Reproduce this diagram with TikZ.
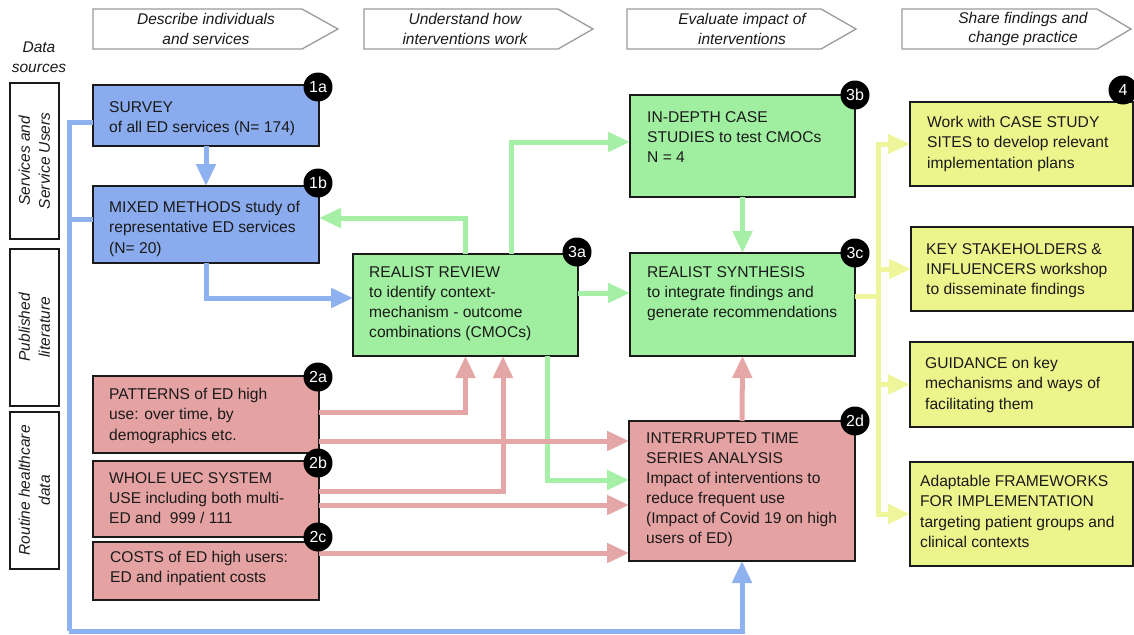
\documentclass[tikz,border=0pt]{standalone}
\usepackage{fontspec}
\setmainfont{Liberation Sans}
\usetikzlibrary{arrows.meta}
\definecolor{bfill}{HTML}{8AABEE}
\definecolor{bline}{HTML}{8EB1F0}
\definecolor{gfill}{HTML}{A0EFA0}
\definecolor{gline}{HTML}{A6EFA6}
\definecolor{pfill}{HTML}{E5A2A2}
\definecolor{pline}{HTML}{E4A6A6}
\definecolor{yfill}{HTML}{ECF58C}
\definecolor{yline}{HTML}{EEF59A}
\definecolor{hdrgray}{HTML}{9A9A9A}
\definecolor{ink}{HTML}{1A1A1A}
\begin{document}
\begin{tikzpicture}[x=1pt,y=-1pt,
  boxs/.style={draw=ink, line width=1.6pt, anchor=north west, inner sep=0pt, outer sep=0pt},
  txt/.style={anchor=north west, align=left, inner sep=0pt, text=ink, font=\fontsize{15.6}{20.3}\selectfont},
  hdrtxt/.style={align=center, inner sep=0pt, text=ink, font=\fontsize{15.5}{19.5}\selectfont\itshape},
  hdr/.style={draw=hdrgray, line width=1.3pt, fill=white},
  side/.style={draw=ink, line width=1.6pt, anchor=north west, inner sep=0pt, minimum width=49pt},
  sidetxt/.style={rotate=90, align=center, inner sep=0pt, text=ink, font=\fontsize{15.5}{20}\selectfont\itshape},
  badge/.style={circle, fill=black, text=white, minimum size=29pt, inner sep=0pt, font=\fontsize{16}{16}\selectfont},
  conn/.style={line width=5pt},
  tip/.style={-{Triangle[length=22pt,width=19pt]}}
]
\useasboundingbox (0,0) rectangle (1134,634);

% headers
\draw[hdr] (93,9) -- (302,9) -- (338,29) -- (302,49) -- (93,49) -- cycle;
\node[hdrtxt] (h1) at (206,29) {Describe individuals\\and services};
\draw[hdr] (364,9) -- (558,9) -- (593,29) -- (558,49) -- (364,49) -- cycle;
\node[hdrtxt] (h2) at (465,29) {Understand how\\interventions work};
\draw[hdr] (627,9) -- (821,9) -- (856,29) -- (821,49) -- (627,49) -- cycle;
\node[hdrtxt] (h3) at (742,29) {Evaluate impact of\\interventions};
\draw[hdr] (902,9) -- (1097,9) -- (1131,29) -- (1097,49) -- (902,49) -- cycle;
\node[hdrtxt] (h4) at (1023,29) {Share findings and\\change practice};

% data sources
\node[hdrtxt] (ds) at (39,57) {Data\\sources};
\node[side, minimum height=156pt] (sd1) at (9,82) {};
\node[sidetxt] (sdt1) at (sd1.center) {Services and\\Service Users};
\node[side, minimum height=157pt] (sd2) at (9,248) {};
\node[sidetxt] (sdt2) at (sd2.center) {Published\\literature};
\node[side, minimum height=157pt] (sd3) at (9,411) {};
\node[sidetxt] (sdt3) at (sd3.center) {Routine healthcare\\data};

% boxes
\node[boxs, fill=bfill, minimum width=226pt, minimum height=61pt] (s1a) at (93,85) {};
\node[boxs, fill=bfill, minimum width=226pt, minimum height=77pt] (s1b) at (93,186) {};
\node[boxs, fill=pfill, minimum width=226pt, minimum height=77pt] (s2a) at (93,376) {};
\node[boxs, fill=pfill, minimum width=226pt, minimum height=76pt] (s2b) at (93,461) {};
\node[boxs, fill=pfill, minimum width=226pt, minimum height=58pt] (s2c) at (93,542) {};
\node[boxs, fill=gfill, minimum width=225pt, minimum height=102pt] (s3a) at (353,254) {};
\node[boxs, fill=gfill, minimum width=225pt, minimum height=102pt] (s3b) at (630,95) {};
\node[boxs, fill=gfill, minimum width=225pt, minimum height=103pt] (s3c) at (630,253) {};
\node[boxs, fill=pfill, minimum width=226pt, minimum height=140pt] (s2d) at (629,421) {};
\node[boxs, fill=yfill, minimum width=223pt, minimum height=84pt] (y1) at (910,102) {};
\node[boxs, fill=yfill, minimum width=222pt, minimum height=84pt] (y2) at (911,227) {};
\node[boxs, fill=yfill, minimum width=223pt, minimum height=85pt] (y3) at (910,342) {};
\node[boxs, fill=yfill, minimum width=223pt, minimum height=104pt] (y4) at (910,462) {};

% connectors: blue
\coordinate (bk) at (69,631);
\draw[conn, bline] ([yshift=-6.5pt]s1a.west) -| (bk);
\draw[conn, bline] ([yshift=5.5pt]s1b.west) -- ([yshift=5.5pt]s1b.west -| bk);
\draw[conn, bline, tip] (bk) -| (s2d.south);
\draw[conn, bline, tip] (s1a.south) -- (s1b.north);
\draw[conn, bline, tip] (s1b.south) |- ([yshift=7pt]s3a.west);

% connectors: green
\draw[conn, gline, tip] (s3a.north) |- ([yshift=6.5pt]s1b.east);
\draw[conn, gline, tip] ([xshift=45.5pt]s3a.north) |- ([yshift=4pt]s3b.west);
\draw[conn, gline, tip] ([yshift=12pt]s3a.east) -- ([yshift=12pt]s3a.east -| s3c.west);
\draw[conn, gline, tip] ([xshift=81.5pt]s3a.south) |- ([yshift=11pt]s2d.west);
\draw[conn, gline, tip] (s3b.south) -- (s3c.north);

% connectors: pink
\draw[conn, pline, tip] ([yshift=2.5pt]s2a.east) -| (s3a.south);
\draw[conn, pline, tip] ([yshift=-26.5pt]s2a.east) -- ([yshift=-26.5pt]s2a.east -| s2d.west);
\draw[conn, pline, tip] ([yshift=8pt]s2b.east) -| ([xshift=37.5pt]s3a.south);
\draw[conn, pline, tip] ([yshift=-6pt]s2b.east) -- ([yshift=-6pt]s2b.east -| s2d.west);
\draw[conn, pline, tip] ([yshift=18pt]s2c.east) -- ([yshift=18pt]s2c.east -| s2d.west);
\draw[conn, pline, tip] (s2d.north) -- (s3c.south);

% connectors: yellow
\coordinate (yj) at (878,296);
\draw[conn, yline] ([yshift=8.5pt]s3c.east) -- (yj);
\draw[conn, yline, tip] (yj) |- (y1.west);
\draw[conn, yline, tip] (yj) |- (y2.west);
\draw[conn, yline, tip] (yj) |- (y3.west);
\draw[conn, yline, tip] (yj) |- (y4.west);

% texts
\node[txt] (t1a) at (109,101) {SURVEY\\of all ED services (N= 174)};
\node[txt] (t1b) at (109,201) {MIXED METHODS study of\\representative ED services\\(N= 20)};
\node[txt] (t2a) at (109,388) {PATTERNS of ED high\\use: over time, by\\demographics etc.};
\node[txt] (t2b) at (109,472) {WHOLE UEC SYSTEM\\USE including both multi-\\ED and \ 999 / 111};
\node[txt] (t2c) at (110,551) {COSTS of ED high users:\\ED and inpatient costs};
\node[txt] (t3a) at (369,266) {REALIST REVIEW\\to identify context-\\mechanism - outcome\\combinations (CMOCs)};
\node[txt] (t3b) at (647,111) {IN-DEPTH CASE\\STUDIES to test CMOCs\\N = 4};
\node[txt] (t3c) at (647,266) {REALIST SYNTHESIS\\to integrate findings and\\generate recommendations};
\node[txt, font=\fontsize{15.6}{20}\selectfont] (t2d) at (646,433) {INTERRUPTED TIME\\SERIES ANALYSIS\\Impact of interventions to\\reduce frequent use\\(Impact of Covid 19 on high\\users of ED)};
\node[txt] (ty1) at (927,116) {Work with CASE STUDY\\SITES to develop relevant\\implementation plans};
\node[txt] (ty2) at (926,243) {KEY STAKEHOLDERS \&\\INFLUENCERS workshop\\to disseminate findings};
\node[txt] (ty3) at (925,357) {GUIDANCE on key\\mechanisms and ways of\\facilitating them};
\node[txt] (ty4) at (920,475) {Adaptable FRAMEWORKS\\FOR IMPLEMENTATION\\targeting patient groups and\\clinical contexts};

% badges
\node[badge] (b1a) at (318,87) {1a};
\node[badge] (b1b) at (318,183) {1b};
\node[badge] (b2a) at (318,377) {2a};
\node[badge] (b2b) at (318,463) {2b};
\node[badge] (b2c) at (318,537) {2c};
\node[badge] (b3a) at (577,252) {3a};
\node[badge] (b3b) at (855,95) {3b};
\node[badge] (b3c) at (855,253) {3c};
\node[badge] (b2d) at (855,421) {2d};
\node[badge] (b4) at (1123,90) {4};
\end{tikzpicture}
\end{document}
